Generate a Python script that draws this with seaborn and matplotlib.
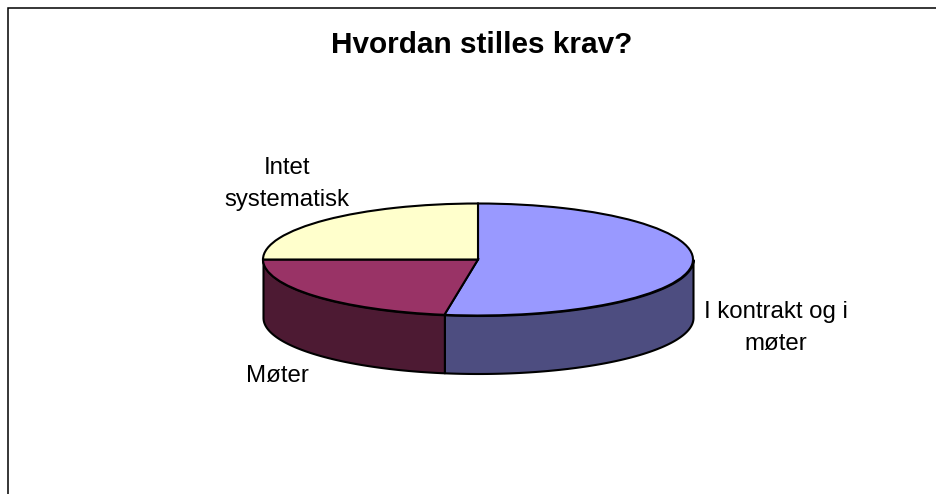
import matplotlib
matplotlib.use('Agg')
import matplotlib.pyplot as plt
import numpy as np
import seaborn as sns

TITLE = 'Hvordan stilles krav?'
CATEGORIES = ['I kontrakt og i\nmøter', 'Møter', 'Intet\nsystematisk']
VALUES = [52.5, 22.5, 25.0]
TOP_COLORS = ['#9999FF', '#993366', '#FFFFCC']
WALL_COLORS = ['#4D4D80', '#4D1A33', '#808066']
LABEL_POS = [(775.5, 328), (277.5, 376), (287, 184)]

W, H = 936, 494
CX, CY, RX, RY, DEPTH = 478, 259.5, 215, 56, 58


def main():
    sns.set_theme(style='white')
    plt.rcParams['font.family'] = ['Liberation Sans', 'DejaVu Sans']

    fig = plt.figure(figsize=(W / 100, H / 100), dpi=100, facecolor='white')
    # one data unit = one pie radius, so the pie squashes into an ellipse
    ax = fig.add_axes([(CX - 1.25 * RX) / W, 0, 2.5 * RX / W, 1])
    depth = DEPTH / RY

    ends = np.cumsum(VALUES) / np.sum(VALUES) * 360
    starts = np.r_[0, ends[:-1]]
    for start, end, color in zip(starts, ends, WALL_COLORS):
        lo, hi = max(start, 90), min(end, 270)
        if hi <= lo:
            continue
        t = np.radians(np.linspace(lo, hi, 200))
        x, y = np.sin(t), np.cos(t)
        order = np.argsort(x)
        ax.fill_between(x[order], y[order], y[order] - depth, facecolor=color,
                        edgecolor='black', linewidth=1.5, zorder=1)

    wedges, _ = ax.pie(VALUES, colors=TOP_COLORS, startangle=90, counterclock=False,
                       radius=1, wedgeprops={'edgecolor': 'black', 'linewidth': 1.5, 'zorder': 2})
    ax.set_aspect('auto')
    ax.set_xlim(-1.25, 1.25)
    ax.set_ylim((CY - H) / RY, CY / RY)
    ax.set_axis_off()

    for label, (px, py) in zip(CATEGORIES, LABEL_POS):
        fig.text(px / W, 1 - py / H, label, ha='center', va='center', fontsize=17.3,
                 color='black', linespacing=1.55)
    fig.text(482 / W, 1 - 45 / H, TITLE, ha='center', va='center', fontsize=21.4,
             fontweight='bold', color='black')

    # chart frame, runs off the right and bottom of the picture
    frame = plt.Rectangle((8 / W, -0.1), 1.2, 1.1 - 8 / H, transform=fig.transFigure,
                          facecolor='none', edgecolor='black', linewidth=1.1)
    fig.add_artist(frame)

    fig.savefig('out.png', dpi=100, facecolor='white')


if __name__ == '__main__':
    main()
